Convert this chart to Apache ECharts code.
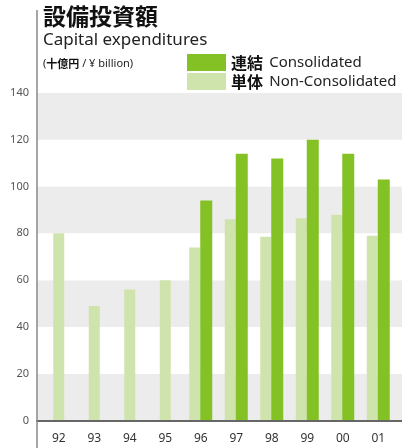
<!DOCTYPE html>
<html>
<head>
<meta charset="utf-8">
<script src="https://cdn.jsdelivr.net/npm/echarts@6/dist/echarts.min.js"></script>
<style>
  html, body { margin: 0; padding: 0; background: #fff; }
  #chart { width: 402px; height: 448px; }
</style>
</head>
<body>
<div id="chart"></div>
<script>
// 年度（カテゴリ）
const years = ['92', '93', '94', '95', '96', '97', '98', '99', '00', '01'];
// 単体（92-95 は単体のみ）
const nonConsolidatedEarly = [80, 49, 56, 60, null, null, null, null, null, null];
const nonConsolidated = [null, null, null, null, 74, 86, 78.5, 86.5, 88, 79];
// 連結
const consolidated = [null, null, null, null, 94, 114, 112, 120, 114, 103];
// y 軸目盛
const yMin = 0, yMax = 140, yStep = 20;

const DARK = '#83c124';
const LIGHT = '#cfe3ad';
const FONT = '"Noto Sans", "Noto Sans CJK JP", sans-serif';
const JP = '"Noto Sans CJK JP", sans-serif';

const chart = echarts.init(document.getElementById('chart'), null, { renderer: 'canvas' });

const option = {
  backgroundColor: '#fff',
  animation: false,
  textStyle: { fontFamily: FONT },
  title: [
    {
      text: '設備投資額',
      left: 43, top: 5, padding: 0,
      textStyle: { fontSize: 23, fontWeight: 'bold', color: '#111', fontFamily: JP }
    },
    {
      text: 'Capital expenditures',
      left: 43, top: 32, padding: 0,
      textStyle: { fontSize: 17, fontWeight: 'normal', color: '#222', fontFamily: FONT }
    },
    {
      text: '({b|十億円} / ¥ billion)',
      left: 43, top: 58, padding: 0,
      textStyle: {
        fontSize: 11, fontWeight: 'normal', color: '#222', fontFamily: FONT,
        rich: { b: { fontSize: 11, fontWeight: 'bold', color: '#111', fontFamily: JP } }
      }
    }
  ],
  legend: {
    data: ['連結', '単体'],
    orient: 'vertical',
    left: 187, top: 54, padding: 0,
    itemWidth: 39, itemHeight: 17, itemGap: 2,
    icon: 'rect',
    selectedMode: false,
    formatter: function (name) {
      return name === '連結' ? '{b|連結}  {e|Consolidated}' : '{b|単体}  {e|Non-Consolidated}';
    },
    textStyle: {
      rich: {
        b: { fontSize: 16, fontWeight: 'bold', color: '#111', fontFamily: JP },
        e: { fontSize: 15, color: '#222', fontFamily: FONT }
      }
    }
  },
  graphic: [
    {
      type: 'line',
      shape: { x1: 37, y1: 10, x2: 37, y2: 448 },
      style: { stroke: '#888', lineWidth: 1.5 },
      z: 10
    }
  ],
  grid: [
    { left: 37, right: 0, top: 93, bottom: 27.5 },
    { left: 41, right: 6, top: 93, bottom: 27.5 }
  ],
  xAxis: [
    {
      gridIndex: 0, type: 'category', data: years,
      axisLine: { lineStyle: { color: '#666', width: 2 } },
      axisTick: { show: false }, axisLabel: { show: false }, z: 5
    },
    {
      gridIndex: 1, type: 'category', data: years,
      axisLine: { show: false }, axisTick: { show: false },
      axisLabel: { color: '#333', fontSize: 12, margin: 12, fontFamily: FONT }
    },
    {
      gridIndex: 1, type: 'category', data: years, show: false
    }
  ],
  yAxis: [
    {
      gridIndex: 0, type: 'value', min: yMin, max: yMax, interval: yStep,
      axisLine: { show: false }, axisTick: { show: false },
      splitLine: { show: false },
      splitArea: { show: true, areaStyle: { color: ['#ececec', '#ffffff'] } },
      axisLabel: { color: '#555', fontSize: 11, margin: 8, fontFamily: FONT }
    },
    {
      gridIndex: 1, type: 'value', min: yMin, max: yMax, interval: yStep, show: false
    }
  ],
  series: [
    {
      name: '単体', type: 'bar', xAxisIndex: 1, yAxisIndex: 1,
      data: nonConsolidated, barWidth: 11, barGap: 0,
      itemStyle: { color: LIGHT }
    },
    {
      name: '連結', type: 'bar', xAxisIndex: 1, yAxisIndex: 1,
      data: consolidated, barWidth: 12, barGap: 0,
      itemStyle: { color: DARK }
    },
    {
      name: '単体', type: 'bar', xAxisIndex: 2, yAxisIndex: 1,
      data: nonConsolidatedEarly, barWidth: 11,
      itemStyle: { color: LIGHT }
    }
  ]
};

chart.setOption(option);
</script>
</body>
</html>
